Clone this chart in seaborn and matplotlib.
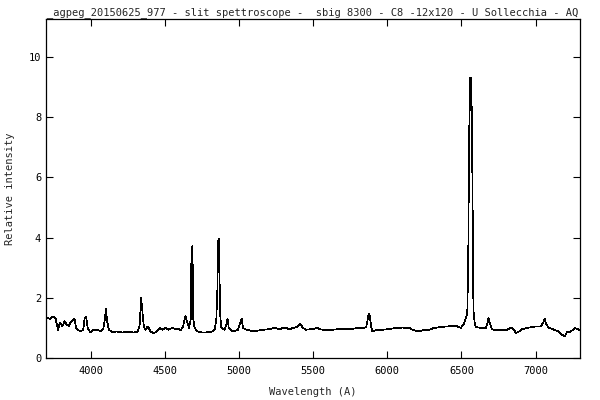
import matplotlib
matplotlib.use("Agg")
import matplotlib.pyplot as plt
import seaborn as sns
import pandas as pd

# spectrum
wavelength = [
    3697, 3702, 3724, 3746, 3762, 3778, 3791, 3807, 3823, 3836, 3852, 3863,
    3881, 3890, 3899, 3912, 3931, 3948, 3958, 3968, 3980, 3998, 4015, 4032,
    4047, 4065, 4083, 4094, 4101, 4110, 4121, 4143, 4177, 4211, 4244, 4290,
    4316, 4328, 4339, 4348, 4357, 4368, 4384, 4402, 4424, 4446, 4465, 4480,
    4503, 4525, 4547, 4570, 4593, 4605, 4622, 4638, 4648, 4662, 4673, 4679,
    4685, 4691, 4698, 4707, 4723, 4745, 4779, 4813, 4835, 4846, 4853, 4859,
    4865, 4871, 4880, 4902, 4914, 4922, 4930, 4958, 4992, 5010, 5017, 5026,
    5049, 5071, 5093, 5138, 5172, 5205, 5239, 5273, 5306, 5340, 5374, 5396,
    5412, 5430, 5452, 5497, 5531, 5542, 5587, 5632, 5677, 5722, 5766, 5811,
    5857, 5867, 5874, 5879, 5886, 5897, 5924, 5968, 6013, 6059, 6103, 6148,
    6170, 6204, 6238, 6283, 6317, 6362, 6406, 6451, 6473, 6496, 6519, 6534,
    6540, 6546, 6552, 6560, 6567, 6574, 6581, 6589, 6597, 6631, 6665, 6676,
    6682, 6692, 6705, 6732, 6777, 6810, 6833, 6851, 6867, 6889, 6911, 6956,
    7001, 7035, 7053, 7062, 7073, 7091, 7113, 7136, 7158, 7180, 7198, 7214,
    7230, 7248, 7266, 7281, 7300,
]
intensity = [
    1.40, 1.35, 1.30, 1.38, 1.30, 0.94, 1.18, 1.05, 1.22, 1.11, 1.07, 1.18,
    1.27, 1.30, 1.00, 0.94, 0.88, 0.94, 1.33, 1.36, 0.96, 0.85, 0.94, 0.92,
    0.94, 0.88, 0.96, 1.27, 1.63, 1.22, 0.94, 0.86, 0.88, 0.85, 0.86, 0.85,
    0.88, 1.05, 1.99, 1.50, 1.05, 0.94, 1.05, 0.88, 0.83, 0.88, 1.00, 0.94,
    1.00, 0.94, 1.00, 0.96, 0.96, 0.92, 1.05, 1.40, 1.22, 1.00, 1.27, 3.65,
    3.71, 1.30, 1.05, 0.94, 0.88, 0.85, 0.85, 0.87, 0.94, 1.27, 2.20, 3.90,
    3.95, 1.50, 1.00, 0.94, 1.11, 1.30, 1.00, 0.88, 0.94, 1.22, 1.30, 1.00,
    0.94, 0.92, 0.88, 0.92, 0.94, 0.96, 1.00, 0.96, 1.01, 0.96, 1.01, 1.05,
    1.14, 1.00, 0.94, 0.96, 1.00, 0.96, 0.92, 0.94, 0.96, 0.96, 0.97, 1.00,
    1.01, 1.27, 1.46, 1.46, 1.22, 0.88, 0.92, 0.94, 0.96, 1.00, 1.01, 1.00,
    0.94, 0.88, 0.92, 0.94, 1.00, 1.03, 1.05, 1.07, 1.05, 1.00, 1.16, 1.38,
    1.60, 3.30, 7.40, 9.30, 9.30, 6.00, 1.60, 1.17, 1.03, 1.00, 1.00, 1.16,
    1.33, 1.16, 0.96, 0.92, 0.92, 0.94, 1.01, 0.96, 0.83, 0.88, 0.96, 1.01,
    1.05, 1.05, 1.18, 1.30, 1.11, 1.00, 0.96, 0.92, 0.88, 0.77, 0.72, 0.88,
    0.85, 0.92, 1.00, 0.96, 0.93,
]
x_ticks = [4000, 4500, 5000, 5500, 6000, 6500, 7000]
y_ticks = [0, 2, 4, 6, 8, 10]

title = "_agpeg_20150625_977 - slit spettroscope -  sbig 8300 - C8 -12x120 - U Sollecchia - AQ"

df = pd.DataFrame({"wavelength": wavelength, "intensity": intensity})

sns.set_style("ticks")
plt.rcParams["font.family"] = ["DejaVu Sans Mono"]

fig = plt.figure(figsize=(6, 4), dpi=100)
ax = fig.add_axes([46 / 600, 42 / 400, 534 / 600, 339 / 400])

# gnuplot-like thin aliased line
sns.lineplot(data=df, x="wavelength", y="intensity", ax=ax, color="black",
             linewidth=0.5, sort=False, estimator=None, antialiased=False)

ax.set_xlim(3697, 7300)
ax.set_ylim(0, 11.26)
ax.set_xticks(x_ticks)
ax.set_yticks(y_ticks)
ax.tick_params(direction="in", length=5, width=0.8, labelsize=7.5,
               top=True, right=True, colors="black")
ax.tick_params(axis="x", pad=6)
for s in ax.spines.values():
    s.set_linewidth(0.9)
    s.set_color("black")

ax.set_xlabel("Wavelength (A)", fontsize=7.5, labelpad=8)
ax.set_ylabel("Relative intensity", fontsize=7.5, labelpad=10)
ax.set_title(title, fontsize=7.5, pad=3)

fig.savefig("out.png", dpi=100)
